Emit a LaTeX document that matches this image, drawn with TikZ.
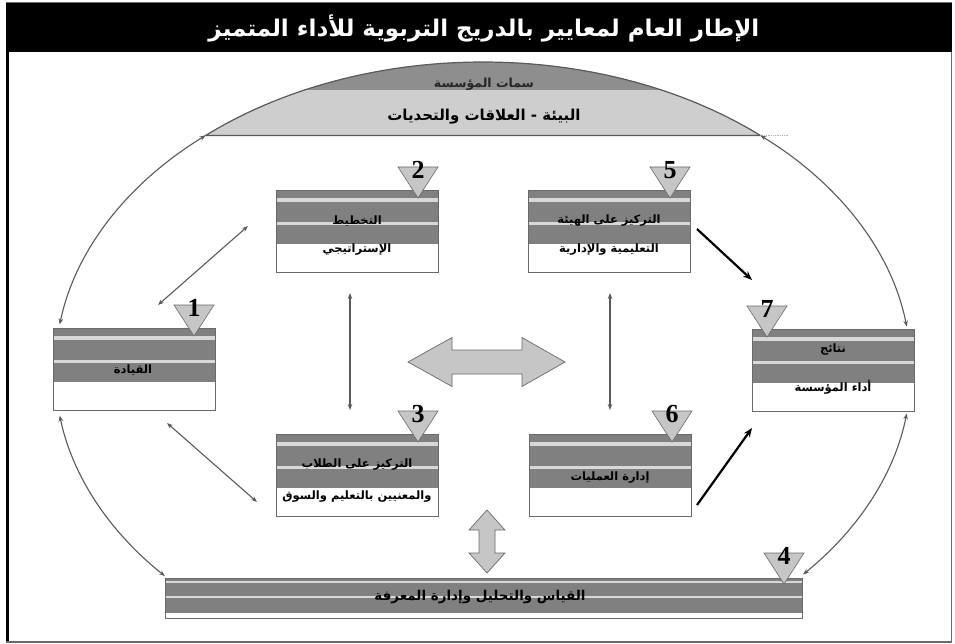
\documentclass[tikz,border=0pt]{standalone}
\usepackage{fontspec}
\setmainfont{Liberation Serif}
\newfontfamily\ar[Script=Arabic]{DejaVu Sans}
\TeXXeTstate=1
\usetikzlibrary{arrows.meta,calc}
\definecolor{dk}{HTML}{808080}
\definecolor{lt}{HTML}{D8D8D8}
\definecolor{domedk}{HTML}{8E8E8E}
\definecolor{domelt}{HTML}{CECECE}
\definecolor{edge}{HTML}{6A6A6A}
\definecolor{trifill}{HTML}{C6C6C6}
\definecolor{conncol}{HTML}{5A5A5A}
\tikzset{
  boxstyle/.style={draw=edge, fill=white, line width=0.9pt, inner sep=0pt, outer sep=0pt,
    anchor=north west, minimum width=162pt, minimum height=82pt,
    path picture={
      \fill[dk] (path picture bounding box.north west) rectangle ($(path picture bounding box.north east)+(0,54)$);
      \fill[lt] ($(path picture bounding box.north west)+(0,8)$) rectangle ($(path picture bounding box.north east)+(0,12)$);
      \fill[lt] ($(path picture bounding box.north west)+(0,32)$) rectangle ($(path picture bounding box.north east)+(0,35)$);
    }},
  barstyle/.style={draw=edge, fill=white, line width=0.9pt, inner sep=0pt, outer sep=0pt,
    anchor=north west, minimum width=637pt, minimum height=40pt,
    path picture={
      \fill[dk] (path picture bounding box.north west) rectangle ($(path picture bounding box.north east)+(0,35)$);
      \fill[lt] ($(path picture bounding box.north west)+(0,3)$) rectangle ($(path picture bounding box.north east)+(0,5)$);
      \fill[lt] ($(path picture bounding box.north west)+(0,18)$) rectangle ($(path picture bounding box.north east)+(0,20)$);
    }},
  tristyle/.style={fill=trifill, draw=edge, line width=0.6pt},
  num/.style={font=\fontsize{26}{26}\selectfont\bfseries, inner sep=0pt},
  btxt/.style={font=\fontsize{11.5}{13}\ar\bfseries, inner sep=0pt, text=black},
  conn/.style={draw=conncol, line width=1.1pt, {Stealth[length=6pt,width=4.5pt]}-{Stealth[length=6pt,width=4.5pt]}},
  thick conn/.style={draw=black, line width=2.2pt, -{Stealth[length=9pt,width=7pt]}},
  blockarrow/.style={fill=trifill, draw=edge, line width=0.7pt},
}
\newcommand\tri[4]{% name, x-left, y-top, number
  \filldraw[tristyle] (#2,#3) -- ++(40,0) -- ++(-20,31) -- cycle;
  \node[num] (#1) at (#2+20,#3+3) {#4};}
\begin{document}
\begin{tikzpicture}[x=1pt,y=-1pt]
\useasboundingbox (0,0) rectangle (955,644);
\fill[white] (0,0) rectangle (955,644);
% frame and title
\fill[black] (6,3) rectangle (952,52);
\draw[edge, line width=1pt] (6,2.5) -- (952,2.5);
\draw[black, line width=3pt] (7,52) -- (7,643);
\draw[edge, line width=1.5pt] (6,642) -- (952,642);
\draw[edge, line width=1pt] (951,52) -- (951,642);
\node[text=white, font=\fontsize{23}{26}\ar\bfseries, inner sep=0pt] (title) at (484,28)
  {\beginR الإطار العام لمعايير بالدريج التربوية للأداء المتميز\endR};
% ellipse geometry
\coordinate (E) at (483,370);
\coordinate (d1) at ($(E)+(229.6:428 and 308)$);
\coordinate (d2) at ($(E)+(310.4:428 and 308)$);
% dome
\begin{scope}
  \clip (0,0) rectangle (955,135.3);
  \fill[domelt] (E) ellipse [x radius=428, y radius=308];
  \clip (0,0) rectangle (955,90);
  \fill[domedk] (E) ellipse [x radius=428, y radius=308];
\end{scope}
\draw[conncol, line width=1.2pt] (d1) arc [start angle=229.6, end angle=310.4, x radius=428, y radius=308] -- cycle;
\draw[gray!60, densely dotted, line width=0.8pt] (d2) -- ++(28,0);
\node[font=\fontsize{12.5}{14}\ar\bfseries, text=black!85, inner sep=0pt] (dtop) at (484,84) {\beginR سمات المؤسسة\endR};
\node[font=\fontsize{15}{17}\ar\bfseries, inner sep=0pt] (dbody) at (484,117) {\beginR البيئة - العلاقات والتحديات\endR};
% big elliptical connectors
\coordinate (e1) at ($(E)+(188.5:428 and 308)$);
\coordinate (e2) at ($(E)+(171.5:428 and 308)$);
\coordinate (e3) at ($(E)+(138:428 and 308)$);
\coordinate (e4) at ($(E)+(351.9:428 and 308)$);
\coordinate (e5) at ($(E)+(8.1:428 and 308)$);
\coordinate (e6) at ($(E)+(41.6:428 and 308)$);
\draw[conn] (d1) arc [start angle=229.6, end angle=188.5, x radius=428, y radius=308];
\draw[conn] (e2) arc [start angle=171.5, end angle=138, x radius=428, y radius=308];
\draw[conn] (d2) arc [start angle=310.4, end angle=351.9, x radius=428, y radius=308];
\draw[conn] (e5) arc [start angle=8.1, end angle=41.6, x radius=428, y radius=308];
% boxes
\node[boxstyle] (b1) at (53,328) {};
\node[boxstyle] (b2) at (276,190) {};
\node[boxstyle] (b5) at (528,190) {};
\node[boxstyle] (b3) at (276,434) {};
\node[boxstyle] (b6) at (529,434) {};
\node[boxstyle] (b7) at (752,329) {};
\node[barstyle] (b4) at (165,578) {};
% box texts
\node[btxt] (t1) at (133,370) {\beginR القيادة\endR};
\node[btxt] (t2a) at (357,221) {\beginR التخطيط\endR};
\node[btxt] (t2b) at (357,250) {\beginR الإستراتيجي\endR};
\node[btxt] (t5a) at (609,221) {\beginR التركيز على الهيئة\endR};
\node[btxt] (t5b) at (609,250) {\beginR التعليمية والإدارية\endR};
\node[btxt] (t3a) at (357,465) {\beginR التركيز على الطلاب\endR};
\node[btxt] (t3b) at (357,497) {\beginR والمعنيين بالتعليم والسوق\endR};
\node[btxt] (t6) at (610,478) {\beginR إدارة العمليات\endR};
\node[btxt] (t7a) at (833,350) {\beginR نتائج\endR};
\node[btxt] (t7b) at (833,387) {\beginR أداء المؤسسة\endR};
\node[btxt, font=\fontsize{13.5}{15}\ar\bfseries] (t4) at (480,597) {\beginR القياس والتحليل وإدارة المعرفة\endR};
% triangles with numbers
\tri{n1}{174}{305}{1}
\tri{n2}{398}{167}{2}
\tri{n5}{650}{167}{5}
\tri{n3}{398}{411}{3}
\tri{n6}{652}{411}{6}
\tri{n7}{747}{306}{7}
\tri{n4}{764}{553}{4}
% straight connectors
\coordinate (p1) at (248,226); \coordinate (p2) at (158,305);
\coordinate (p3) at (167,423); \coordinate (p4) at (257,502);
\coordinate (p5) at (350,293); \coordinate (p6) at (350,410);
\coordinate (p7) at (610,293); \coordinate (p8) at (610,410);
\coordinate (p9) at (697,229); \coordinate (p10) at (752,280);
\coordinate (p11) at (697,505); \coordinate (p12) at (752,428);
\draw[conn] (p1) -- (p2);
\draw[conn] (p3) -- (p4);
\draw[conn] (p5) -- (p6);
\draw[conn] (p7) -- (p8);
\draw[thick conn] (p9) -- (p10);
\draw[thick conn] (p11) -- (p12);
% block arrows
\filldraw[blockarrow] (408,362) -- (452,337.5) -- (452,350) -- (522,350) -- (522,337.5) -- (565,362)
  -- (522,386.5) -- (522,374) -- (452,374) -- (452,386.5) -- cycle;
\filldraw[blockarrow] (487,510) -- (505,530) -- (495,530) -- (495,553) -- (505,553) -- (487,573)
  -- (469,553) -- (479,553) -- (479,530) -- (469,530) -- cycle;
\end{tikzpicture}
\end{document}
